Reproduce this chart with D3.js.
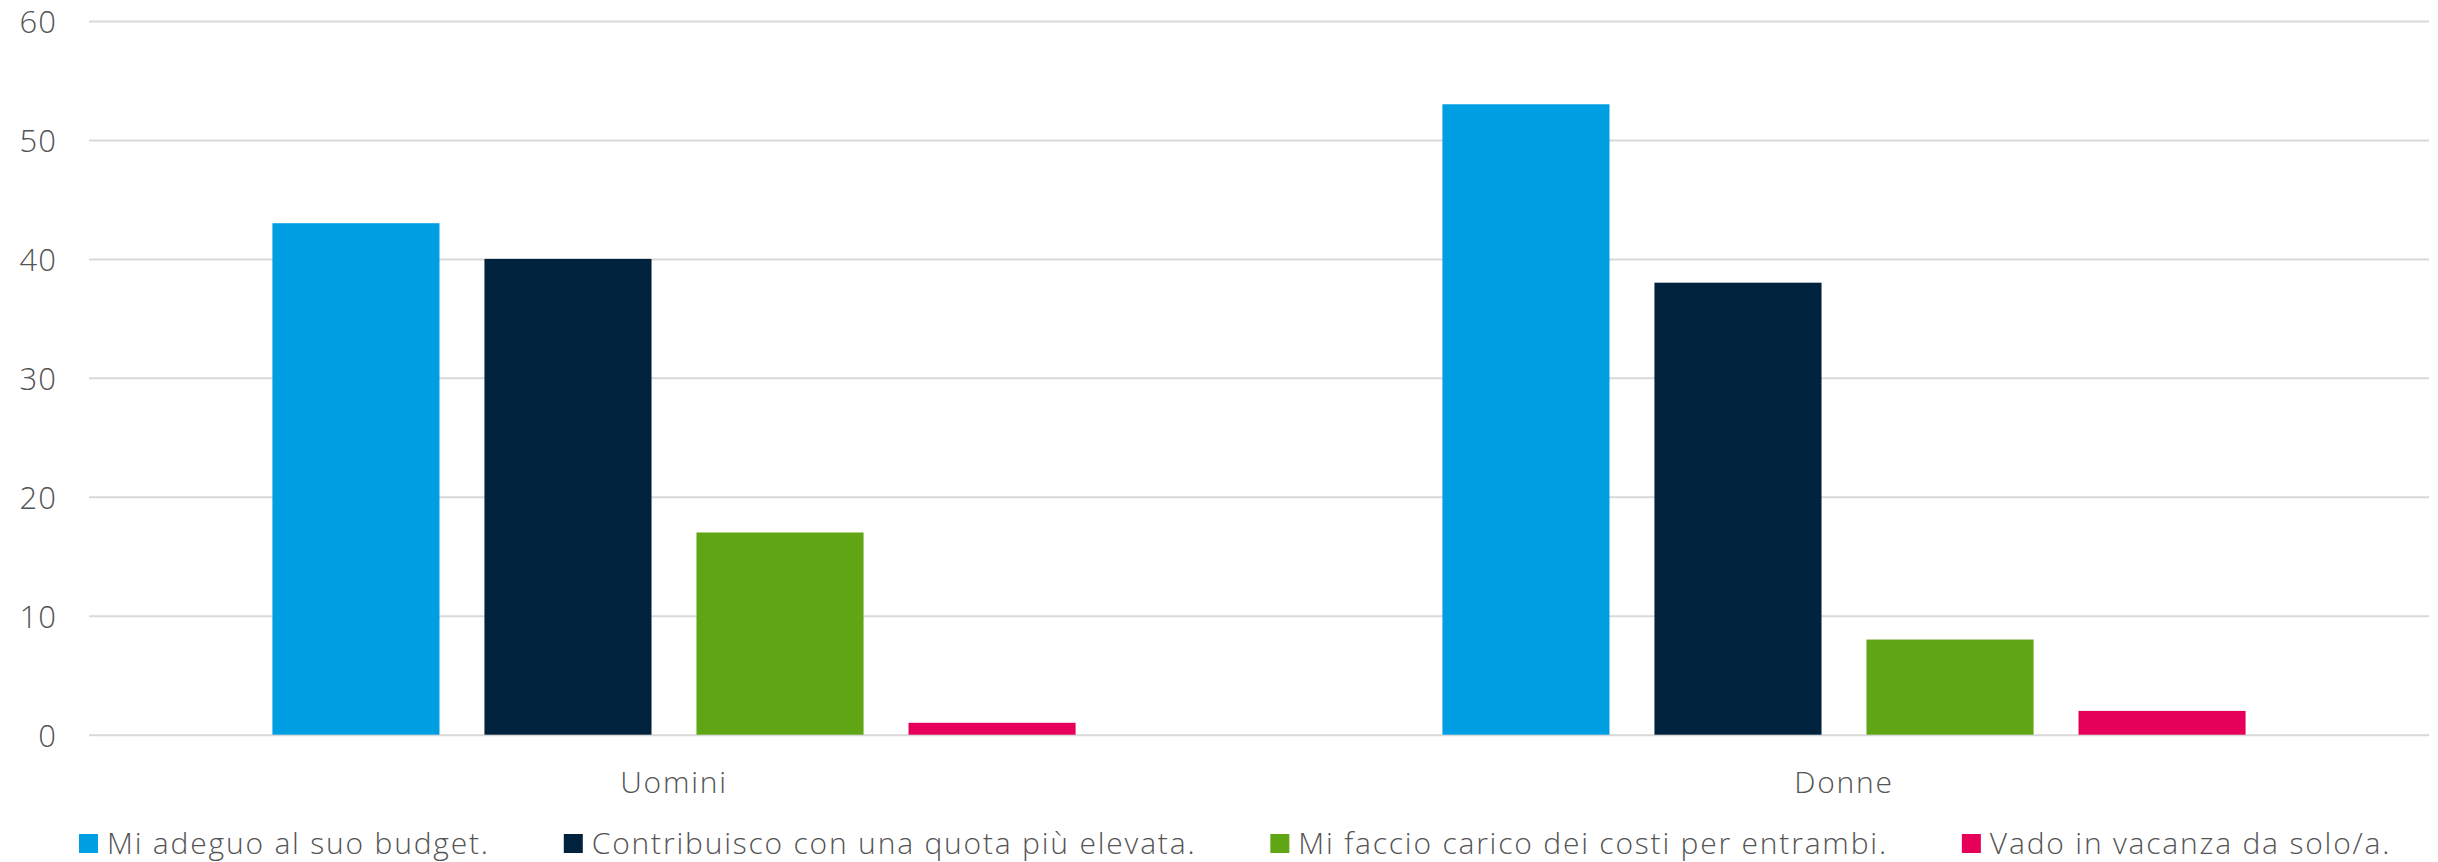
<!DOCTYPE html>
<html><head><meta charset="utf-8">
<script src="https://cdn.jsdelivr.net/npm/d3@7"></script>
<style>html,body{margin:0;padding:0;background:#fff}svg{display:block}</style>
</head><body>
<svg id="chart" width="2438" height="862"></svg>
<script>
const categories = ["Uomini", "Donne"];
const seriesNames = ["Mi adeguo al suo budget.", "Contribuisco con una quota più elevata.", "Mi faccio carico dei costi per entrambi.", "Vado in vacanza da solo/a."];
const seriesColors = ["#009fe3", "#00223d", "#60a514", "#e6005a"];
const valuesUomini = [43, 40, 17, 1];
const valuesDonne = [53, 38, 8, 2];
const yTicks = [0, 10, 20, 30, 40, 50, 60];

(function () {
const values = [valuesUomini, valuesDonne];
const svg = d3.select("#chart");
const font = "'Open Sans', Lato, sans-serif";
const weight = 300;
const spacing = "1.8px";
const textColor = "#545454";
const plotLeft = 89, plotRight = 2429, plotTop = 21, plotBottom = 734.7;

const y = d3.scaleLinear().domain([0, 60]).range([plotBottom, plotTop]);
const x0 = d3.scaleBand().domain(categories).range([plotLeft, plotRight]).padding(0);
const x1 = d3.scaleBand().domain(seriesNames).range([0, x0.bandwidth()]).paddingInner(0.212).paddingOuter(0.865);

// gridlines
const yAxis = d3.axisLeft(y).tickValues(yTicks).tickSize(-(plotRight - plotLeft)).tickPadding(32);
const ga = svg.append("g").attr("transform", `translate(${plotLeft},0)`).call(yAxis);
ga.select(".domain").remove();
ga.selectAll(".tick line").attr("stroke", "#d9d9d9").attr("stroke-width", 2);
ga.selectAll(".tick text").attr("fill", textColor).attr("font-family", font).attr("font-weight", weight)
  .attr("font-size", 31).attr("letter-spacing", "1px").attr("dy", "0.38em");

// bars
const groups = svg.append("g").selectAll("g").data(categories).join("g")
  .attr("transform", d => `translate(${x0(d)},0)`);
groups.selectAll("rect").data((d, i) => values[i].map((v, j) => ({s: seriesNames[j], v, c: seriesColors[j]})))
  .join("rect")
  .attr("x", d => x1(d.s)).attr("width", x1.bandwidth())
  .attr("y", d => y(d.v)).attr("height", d => y(0) - y(d.v))
  .attr("fill", d => d.c);

// category axis labels
const xAxis = d3.axisBottom(x0).tickSize(0).tickPadding(37);
const gx = svg.append("g").attr("transform", `translate(0,${plotBottom})`).call(xAxis);
gx.select(".domain").remove();
gx.selectAll(".tick text").attr("fill", textColor).attr("font-family", font).attr("font-weight", weight)
  .attr("font-size", 30).attr("letter-spacing", spacing);

// legend
const legend = svg.append("g").attr("transform", "translate(79,834)");
let lx = 0;
seriesNames.forEach((name, i) => {
  const g = legend.append("g").attr("transform", `translate(${lx},0)`);
  g.append("rect").attr("width", 19).attr("height", 19).attr("fill", seriesColors[i]);
  const t = g.append("text").attr("x", 28).attr("y", 20).attr("fill", textColor)
    .attr("font-family", font).attr("font-weight", weight).attr("font-size", 30)
    .attr("letter-spacing", spacing).text(name);
  lx += 28 + t.node().getComputedTextLength() + 74;
});
})();
</script>
</body></html>
